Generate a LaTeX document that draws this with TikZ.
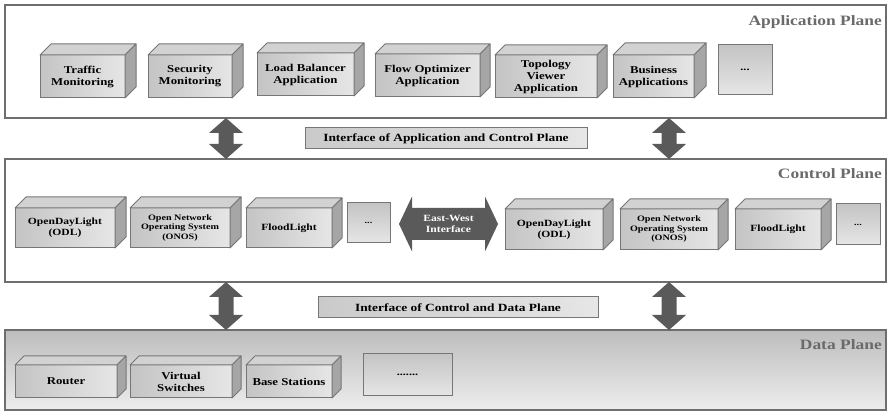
\documentclass[tikz,border=0pt]{standalone}
\usepackage{fontspec}
\setmainfont{Liberation Serif}[FakeStretch=1.22]
\usetikzlibrary{calc}
\definecolor{edgec}{HTML}{767676}
\definecolor{planec}{HTML}{6E6E6E}
\definecolor{fl}{HTML}{C4C4C4}
\definecolor{fr}{HTML}{E6E6E6}
\definecolor{topc}{HTML}{D2D2D2}
\definecolor{sidec}{HTML}{A6A6A6}
\definecolor{arrc}{HTML}{5A5A5A}
\definecolor{titlec}{HTML}{6A6A6A}
\definecolor{dtop}{HTML}{BDBDBD}
\definecolor{dbot}{HTML}{EDEDED}
\newcommand\cub[8]{%
  \node[front, font=#7, minimum width=#4pt-#2pt, minimum height=#5pt-#3pt] (#1) at (#2,#3) {#8};
  \filldraw[topf] (#1.north west) -- ++(#6,-#6) -- ($(#1.north east)+(#6,-#6)$) -- (#1.north east) -- cycle;
  \filldraw[sidef] (#1.north east) -- ++(#6,-#6) -- ($(#1.south east)+(#6,-#6)$) -- (#1.south east) -- cycle;
}
\newcommand\vdar[2]{%
  \fill[arr] let \p1=(#1), \p2=(#2) in
    (\x1,\y1) -- (\x1+17pt,\y1-15pt) -- (\x1+7.5pt,\y1-15pt) -- (\x1+7.5pt,\y2+15pt)
    -- (\x1+17pt,\y2+15pt) -- (\x1,\y2) -- (\x1-17pt,\y2+15pt) -- (\x1-7.5pt,\y2+15pt)
    -- (\x1-7.5pt,\y1-15pt) -- (\x1-17pt,\y1-15pt) -- cycle;
}
\begin{document}
\begin{tikzpicture}[x=1pt,y=-1pt,
  plane/.style={draw=planec, line width=1.3pt, anchor=north west, inner sep=0pt, outer sep=0pt},
  front/.style={draw=edgec, line width=1pt, left color=fl, right color=fr, inner sep=0pt, outer sep=0pt, align=center, anchor=north west},
  flat/.style={draw=edgec, line width=1pt, top color=fl, bottom color=fr, inner sep=0pt, outer sep=0pt, align=center, anchor=north west},
  topf/.style={fill=topc, draw=edgec, line width=1pt, line join=round},
  sidef/.style={fill=sidec, draw=edgec, line width=1pt, line join=round},
  arr/.style={fill=arrc},
  title/.style={font=\bfseries\fontsize{14.3}{16}\selectfont, text=titlec, inner sep=0pt, anchor=north east},
  iface/.style={draw=edgec, line width=1pt, left color=fl!90, right color=fr, inner sep=0pt, outer sep=0pt, anchor=north west, font=\bfseries\fontsize{11}{12}\selectfont},
]
\useasboundingbox (0,0) rectangle (889,411);
\def\fa{\bfseries\fontsize{10.5}{12}\selectfont}
\def\fb{\bfseries\fontsize{9.5}{11}\selectfont}
\def\fc{\bfseries\fontsize{8.3}{9.5}\selectfont}
\def\fd{\bfseries\fontsize{10}{12}\selectfont}

% planes
\node[plane, minimum width=881pt, minimum height=113pt] (app) at (5,5) {};
\node[plane, minimum width=881pt, minimum height=123pt] (ctrl) at (5,159) {};
\node[plane, top color=dtop, bottom color=dbot, minimum width=881pt, minimum height=80pt] (data) at (5,330) {};

\node[title] (tapp) at ($(app.north east)+(-4,10)$) {Application Plane};
\node[title] (tctrl) at ($(ctrl.north east)+(-4,9)$) {Control Plane};
\node[title] (tdata) at ($(data.north east)+(-4,9)$) {Data Plane};

% application plane
\cub{tm}{40}{55}{125}{98}{11}{\fa}{Traffic\\Monitoring}
\cub{sm}{148}{55}{232}{98}{11}{\fa}{Security\\Monitoring}
\cub{lb}{257}{53}{354}{96}{10}{\fa}{Load Balancer\\Application}
\cub{fo}{375}{54}{480}{97}{10}{\fa}{Flow Optimizer\\Application}
\cub{tv}{495}{55}{597}{98}{10}{\fa}{Topology\\Viewer\\Application}
\cub{ba}{613}{55}{694}{98}{12}{\fa}{Business\\Applications}
\node[flat, minimum width=54pt, minimum height=50pt, font=\fd] (ad) at (718,45) {...};

% interfaces
\node[iface, minimum width=282pt, minimum height=21pt] (if1) at (305,128) {Interface of Application and Control Plane};
\node[iface, minimum width=280pt, minimum height=21pt] (if2) at (318,297) {Interface of Control and Data Plane};

% vertical arrows
\path (app.south west) ++(221,0) coordinate (a1t);
\path (ctrl.north west) ++(221,0) coordinate (a1b);
\path (app.south west) ++(664,0) coordinate (a2t);
\path (ctrl.north west) ++(664,0) coordinate (a2b);
\path (ctrl.south west) ++(221,0) coordinate (a3t);
\path (data.north west) ++(221,0) coordinate (a3b);
\path (ctrl.south west) ++(664,0) coordinate (a4t);
\path (data.north west) ++(664,0) coordinate (a4b);
\vdar{a1t}{a1b}
\vdar{a2t}{a2b}
\vdar{a3t}{a3b}
\vdar{a4t}{a4b}

% control plane
\cub{odla}{15}{208}{115}{248}{11}{\fb}{OpenDayLight\\(ODL)}
\cub{onosa}{130}{208}{230}{248}{11}{\fc}{Open Network\\Operating System\\(ONOS)}
\cub{fla}{246}{208}{332}{248}{10}{\fb}{FloodLight}
\node[flat, minimum width=43pt, minimum height=40pt, font=\fc] (cda) at (347,203) {...};

\coordinate (ewl) at (399,224);
\coordinate (ewr) at (498,224);
\fill[arr] let \p1=(ewl), \p2=(ewr) in
  (\x1,\y1) -- (\x1+13pt,\y1+27.5pt) -- (\x1+13pt,\y1+16pt) -- (\x2-13pt,\y1+16pt)
  -- (\x2-13pt,\y1+27.5pt) -- (\x2,\y2) -- (\x2-13pt,\y1-27.5pt) -- (\x2-13pt,\y1-16pt)
  -- (\x1+13pt,\y1-16pt) -- (\x1+13pt,\y1-27.5pt) -- cycle;
\node[font=\fb, text=white, align=center, inner sep=0pt] (ew) at ($(ewl)!0.5!(ewr)$) {East-West\\Interface};

\cub{odlb}{505}{209}{603}{250}{10}{\fb}{OpenDayLight\\(ODL)}
\cub{onosb}{620}{209}{718}{250}{10}{\fc}{Open Network\\Operating System\\(ONOS)}
\cub{flb}{735}{209}{821}{250}{10}{\fb}{FloodLight}
\node[flat, minimum width=44pt, minimum height=41pt, font=\fc] (cdb) at (836,204) {...};

% data plane
\cub{rt}{15}{365}{117}{398}{9}{\fa}{Router}
\cub{vs}{130}{365}{232}{398}{9}{\fa}{Virtual\\Switches}
\cub{bs}{246}{365}{332}{398}{9}{\fa}{Base Stations}
\node[flat, minimum width=89pt, minimum height=42pt, font=\fd] (dd) at (363,354) {.......};
\end{tikzpicture}
\end{document}
